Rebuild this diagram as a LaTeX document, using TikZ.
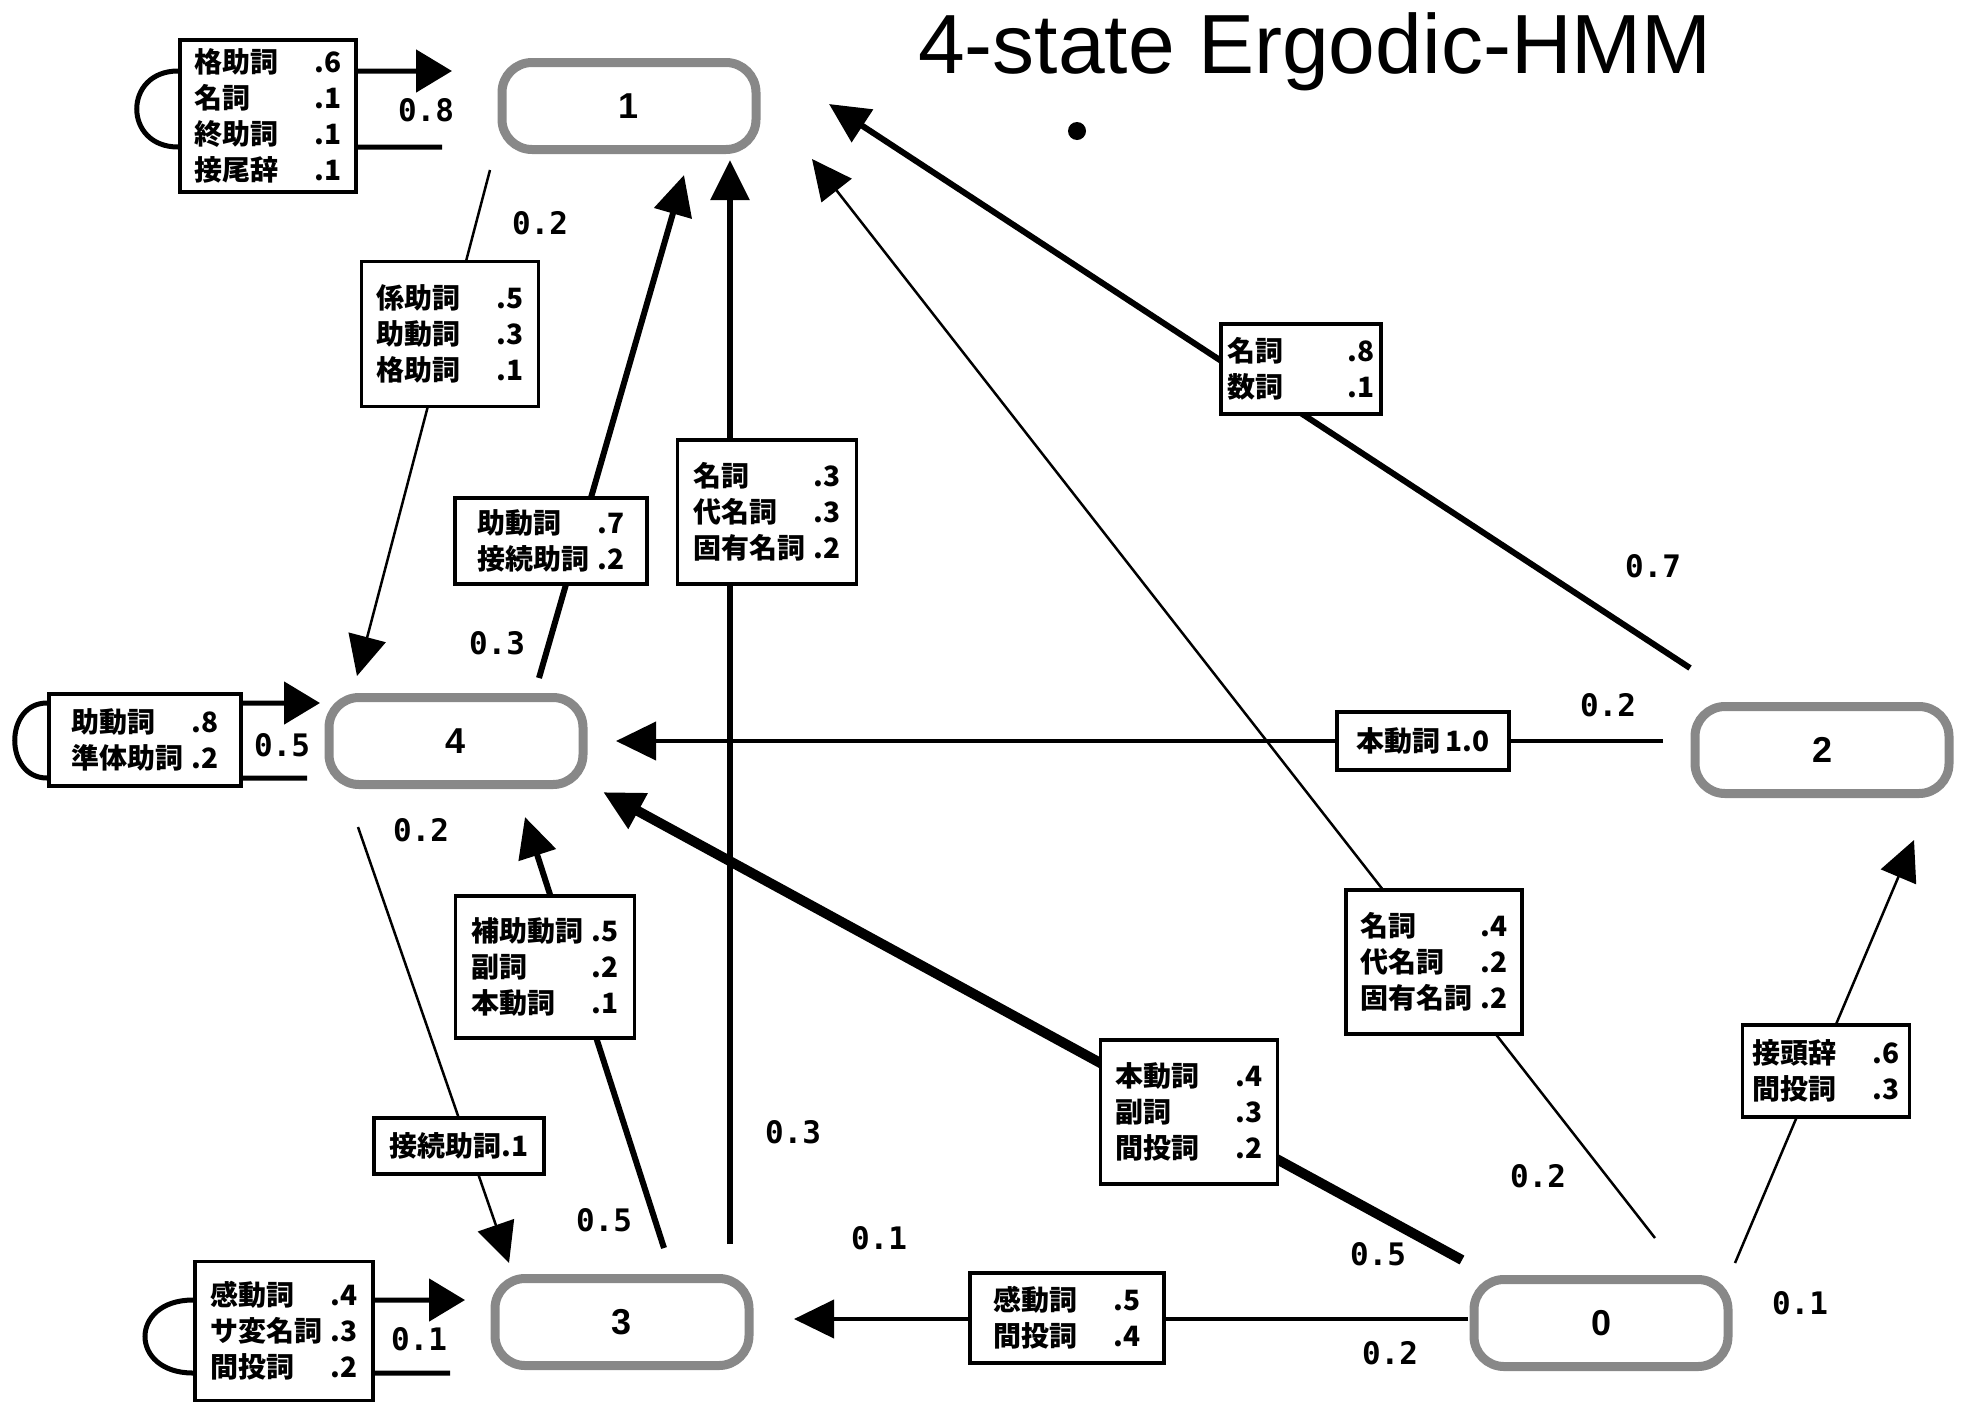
\documentclass[tikz,border=0pt]{standalone}
\usepackage{fontspec}
\setmainfont{Liberation Sans}
\newfontfamily\jpf{Noto Sans CJK JP}
\newfontfamily\numf{DejaVu Sans Mono}
\usetikzlibrary{arrows.meta}
\newcommand{\lrow}[2]{\makebox[4.3em][l]{#1}#2}
\definecolor{stategray}{HTML}{888888}
\tikzset{
  state/.style={draw=stategray, line width=9pt, rounded corners=30pt, minimum width=254pt, minimum height=87pt, inner sep=0pt, fill=white, font=\bfseries\fontsize{36}{36}\selectfont},
  lbl/.style={draw, line width=3.5pt, fill=white, inner sep=0pt, align=left, font=\jpf\bfseries\fontsize{28}{36}\selectfont},
  prob/.style={font=\numf\bfseries\fontsize{31}{31}\selectfont, inner sep=0pt},
  tip/.style={-{Triangle[length=40pt,width=38pt]}},
  looptip/.style={-{Triangle[length=36pt,width=42pt]}},
  thinln/.style={line width=2.5pt},
  medln/.style={line width=4pt},
  thickln/.style={line width=6pt},
  heavyln/.style={line width=10pt},
  loopln/.style={line width=5pt},
}
\begin{document}
\begin{tikzpicture}[x=1pt,y=-1pt]
\useasboundingbox (0,0) rectangle (1964,1406);
\fill[white] (0,0) rectangle (1964,1406);

% title and dot
\node[anchor=base west, inner sep=0pt, font=\fontsize{84}{84}\selectfont] (title) at (918,73) {4-state Ergodic-HMM};
\node[circle, fill=black, inner sep=0pt, minimum size=18pt] (dot) at (1077,131) {};

% states
\node[state] (s1) at (629,106) {1};
\node[state] (s4) at (456,741) {4};
\node[state] (s2) at (1822,750) {2};
\node[state] (s3) at (622,1322) {3};
\node[state] (s0) at (1601,1323) {0};

% connector end points
\coordinate (a14) at (490,170);   \coordinate (b14) at (357,676);
\coordinate (a41) at (539,678);   \coordinate (b41) at (684,175);
\coordinate (a31) at (730,1244);  \coordinate (b31) at (730,160);
\coordinate (a21) at (1690,668);  \coordinate (b21) at (829,104);
\coordinate (a01) at (1655,1238); \coordinate (b01) at (812,159);
\coordinate (a24) at (1663,741);  \coordinate (b24) at (616,741);
\coordinate (a04) at (1462,1260); \coordinate (b04) at (603,792);
\coordinate (a34) at (664,1248);  \coordinate (b34) at (525,817);
\coordinate (a43) at (358,827);   \coordinate (b43) at (509,1263);
\coordinate (a03) at (1468,1319); \coordinate (b03) at (794,1319);
\coordinate (a02) at (1735,1263); \coordinate (b02) at (1914,840);
\coordinate (L1in) at (442,147);  \coordinate (L1out) at (452,71);
\coordinate (L4in) at (307,778);  \coordinate (L4out) at (320,703);
\coordinate (L3in) at (450,1373); \coordinate (L3out) at (465,1300);

% connectors
\draw[thinln, tip] (a14) -- (b14);
\draw[thickln, tip] (a41) -- (b41);
\draw[thickln, tip] (a31) -- (b31);
\draw[thickln, tip] (a21) -- (b21);
\draw[thinln, tip] (a01) -- (b01);
\draw[medln, tip] (a24) -- (b24);
\draw[heavyln, tip] (a04) -- (b04);
\draw[thickln, tip] (a34) -- (b34);
\draw[thinln, tip] (a43) -- (b43);
\draw[medln, tip] (a03) -- (b03);
\draw[thinln, tip] (a02) -- (b02);

% self loops
\draw[loopln, looptip] (L1in) -- (178,147) .. controls (123,147) and (123,71) .. (178,71) -- (L1out);
\draw[loopln, looptip] (L4in) -- (47,778) .. controls (4,778) and (4,703) .. (47,703) -- (L4out);
\draw[loopln, looptip] (L3in) -- (193,1373) .. controls (129,1373) and (129,1300) .. (193,1300) -- (L3out);

% emission boxes
\node[lbl, minimum width=176pt, minimum height=152pt] (bA) at (268,116)
  {\lrow{格助詞}{.6}\\\lrow{名詞}{.1}\\\lrow{終助詞}{.1}\\\lrow{接尾辞}{.1}};
\node[lbl, minimum width=177pt, minimum height=145pt] (bB) at (450,334)
  {\lrow{係助詞}{.5}\\\lrow{助動詞}{.3}\\\lrow{格助詞}{.1}};
\node[lbl, minimum width=192pt, minimum height=86pt] (bC) at (551,541)
  {\lrow{助動詞}{.7}\\\lrow{接続助詞}{.2}};
\node[lbl, minimum width=179pt, minimum height=144pt] (bD) at (767,512)
  {\lrow{名詞}{.3}\\\lrow{代名詞}{.3}\\\lrow{固有名詞}{.2}};
\node[lbl, minimum width=160pt, minimum height=90pt] (bE) at (1301,369)
  {\lrow{名詞}{.8}\\\lrow{数詞}{.1}};
\node[lbl, minimum width=172pt, minimum height=58pt] (bF) at (1423,741)
  {本動詞\,1.0};
\node[lbl, minimum width=192pt, minimum height=92pt] (bG) at (145,740)
  {\lrow{助動詞}{.8}\\\lrow{準体助詞}{.2}};
\node[lbl, minimum width=179pt, minimum height=142pt] (bH) at (545,967)
  {\lrow{補助動詞}{.5}\\\lrow{副詞}{.2}\\\lrow{本動詞}{.1}};
\node[lbl, minimum width=170pt, minimum height=56pt] (bI) at (459,1146)
  {接続助詞.1};
\node[lbl, minimum width=176pt, minimum height=144pt] (bJ) at (1434,962)
  {\lrow{名詞}{.4}\\\lrow{代名詞}{.2}\\\lrow{固有名詞}{.2}};
\node[lbl, minimum width=177pt, minimum height=144pt] (bK) at (1189,1112)
  {\lrow{本動詞}{.4}\\\lrow{副詞}{.3}\\\lrow{間投詞}{.2}};
\node[lbl, minimum width=167pt, minimum height=92pt] (bL) at (1826,1071)
  {\lrow{接頭辞}{.6}\\\lrow{間投詞}{.3}};
\node[lbl, minimum width=194pt, minimum height=90pt] (bM) at (1067,1318)
  {\lrow{感動詞}{.5}\\\lrow{間投詞}{.4}};
\node[lbl, minimum width=178pt, minimum height=139pt] (bN) at (284,1331)
  {\lrow{感動詞}{.4}\\\lrow{サ変名詞}{.3}\\\lrow{間投詞}{.2}};

% probabilities
\node[prob] (p11) at (426,110) {0.8};
\node[prob] (p14) at (540,223) {0.2};
\node[prob] (p44) at (282,745) {0.5};
\node[prob] (p41) at (497,643) {0.3};
\node[prob] (p43) at (421,830) {0.2};
\node[prob] (p31) at (793,1132) {0.3};
\node[prob] (p34) at (604,1220) {0.5};
\node[prob] (p33) at (419,1339) {0.1};
\node[prob] (pX)  at (879,1238) {0.1};
\node[prob] (p21) at (1653,566) {0.7};
\node[prob] (p24) at (1608,705) {0.2};
\node[prob] (p01) at (1538,1176) {0.2};
\node[prob] (p04) at (1378,1254) {0.5};
\node[prob] (p03) at (1390,1353) {0.2};
\node[prob] (p02) at (1800,1303) {0.1};
\end{tikzpicture}
\end{document}
